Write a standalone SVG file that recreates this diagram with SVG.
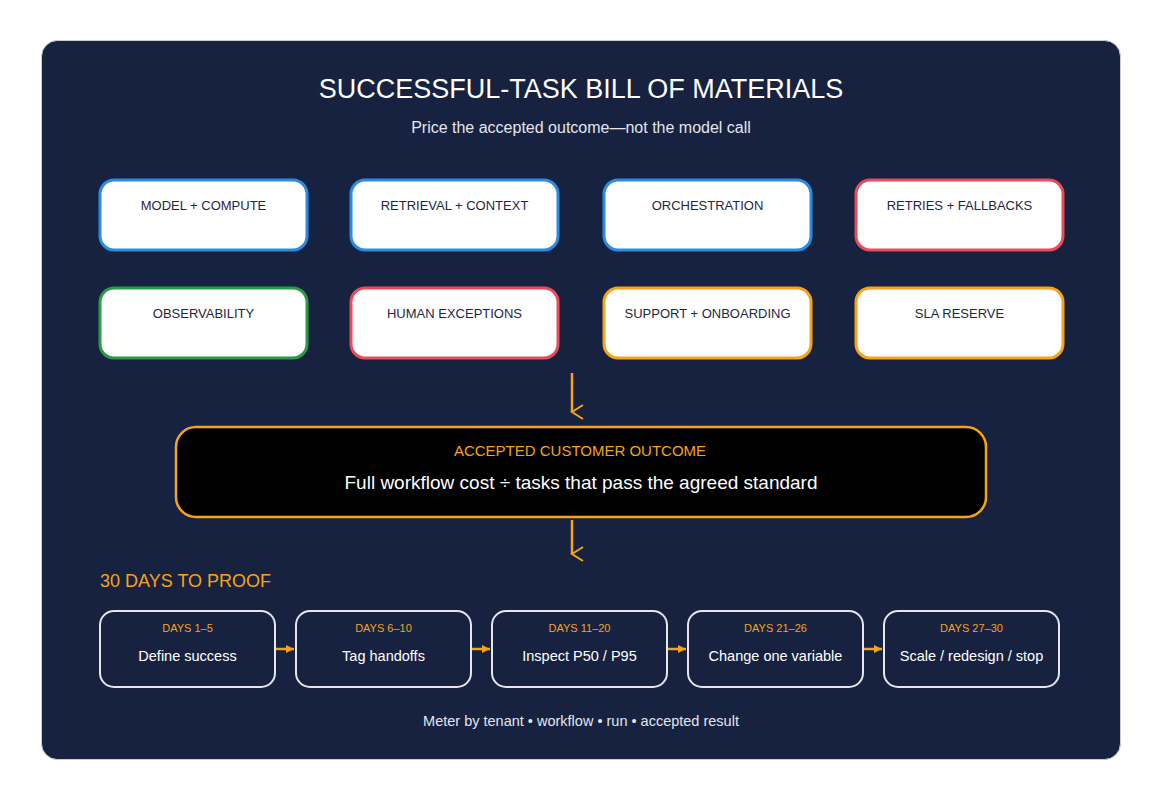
<svg xmlns="http://www.w3.org/2000/svg" width="1161" height="800" viewBox="0 0 1161 800">
<defs>
<marker id="ah" markerWidth="10" markerHeight="10" refX="8" refY="5" orient="auto" markerUnits="userSpaceOnUse"><path d="M0,1 L8,5 L0,9 Z" fill="#f5a31a"/></marker>
<marker id="av" markerWidth="16" markerHeight="16" refX="8" refY="14" orient="auto-start-reverse" markerUnits="userSpaceOnUse"><path d="M1,3 L8,14 L15,3" fill="none" stroke="#f5a31a" stroke-width="2"/></marker>
<style>
text{font-family:"Liberation Sans",Arial,sans-serif;text-anchor:middle}
.b{fill:#fff;stroke-width:3}
.bl{stroke:#2a8be0}.rd{stroke:#e84c5a}.gr{stroke:#2a9a44}.or{stroke:#f5a31a}
.bt{font-size:13px;fill:#1e2742}
.s{fill:none;stroke:#e6e6ee;stroke-width:2}
.d{font-size:11px;fill:#f5a31a}
.w{font-size:14.5px;fill:#fff}
.c{stroke:#f5a31a;stroke-width:2.5;fill:none}
</style>
</defs>
<rect x="0" y="0" width="1161" height="800" fill="#fff"/>
<rect x="41.5" y="40.5" width="1079" height="719" rx="16" fill="#172240" stroke="#c9ccd4"/>
<text x="581" y="98" font-size="27" fill="#fff">SUCCESSFUL-TASK BILL OF MATERIALS</text>
<text x="581" y="133" font-size="16" fill="#e3e5ec">Price the accepted outcome—not the model call</text>
<g id="n1"><rect class="b bl" x="100" y="180" width="207" height="70" rx="14"/><text class="bt" x="203.5" y="210">MODEL + COMPUTE</text></g>
<g id="n2"><rect class="b bl" x="351" y="180" width="207" height="70" rx="14"/><text class="bt" x="454.5" y="210">RETRIEVAL + CONTEXT</text></g>
<g id="n3"><rect class="b bl" x="604" y="180" width="207" height="70" rx="14"/><text class="bt" x="707.5" y="210">ORCHESTRATION</text></g>
<g id="n4"><rect class="b rd" x="856" y="180" width="207" height="70" rx="14"/><text class="bt" x="959.5" y="210">RETRIES + FALLBACKS</text></g>
<g id="n5"><rect class="b gr" x="100" y="288" width="207" height="70" rx="14"/><text class="bt" x="203.5" y="318">OBSERVABILITY</text></g>
<g id="n6"><rect class="b rd" x="351" y="288" width="207" height="70" rx="14"/><text class="bt" x="454.5" y="318">HUMAN EXCEPTIONS</text></g>
<g id="n7"><rect class="b or" x="604" y="288" width="207" height="70" rx="14"/><text class="bt" x="707.5" y="318">SUPPORT + ONBOARDING</text></g>
<g id="n8"><rect class="b or" x="856" y="288" width="207" height="70" rx="14"/><text class="bt" x="959.5" y="318">SLA RESERVE</text></g>
<g id="outcome"><rect x="176" y="427" width="810" height="90" rx="20" fill="#000" stroke="#f5a31a" stroke-width="2.5"/>
<text x="580" y="456" font-size="15" fill="#f5a31a" font-family="DejaVu Sans">ACCEPTED CUSTOMER OUTCOME</text>
<text x="581" y="489" font-size="19" fill="#fff">Full workflow cost ÷ tasks that pass the agreed standard</text></g>
<text x="100" y="587" font-size="18" fill="#f5a31a" font-family="DejaVu Sans" style="text-anchor:start">30 DAYS TO PROOF</text>
<g id="d1"><rect class="s" x="100" y="611" width="175" height="76" rx="14"/><text class="d" x="187.5" y="632">DAYS 1–5</text><text class="w" x="187.5" y="661">Define success</text></g>
<g id="d2"><rect class="s" x="296" y="611" width="175" height="76" rx="14"/><text class="d" x="383.5" y="632">DAYS 6–10</text><text class="w" x="383.5" y="661">Tag handoffs</text></g>
<g id="d3"><rect class="s" x="492" y="611" width="175" height="76" rx="14"/><text class="d" x="579.5" y="632">DAYS 11–20</text><text class="w" x="579.5" y="661">Inspect P50 / P95</text></g>
<g id="d4"><rect class="s" x="688" y="611" width="175" height="76" rx="14"/><text class="d" x="775.5" y="632">DAYS 21–26</text><text class="w" x="775.5" y="661">Change one variable</text></g>
<g id="d5"><rect class="s" x="884" y="611" width="175" height="76" rx="14"/><text class="d" x="971.5" y="632">DAYS 27–30</text><text class="w" x="971.5" y="661">Scale / redesign / stop</text></g>
<g id="connectors">
<path class="c" d="M572,373 V412" marker-end="url(#av)"/>
<path class="c" d="M572,520 V554" marker-end="url(#av)"/>
<path class="c" d="M276,649 H294" marker-end="url(#ah)"/>
<path class="c" d="M472,649 H490" marker-end="url(#ah)"/>
<path class="c" d="M668,649 H686" marker-end="url(#ah)"/>
<path class="c" d="M864,649 H882" marker-end="url(#ah)"/>
</g>
<text x="581" y="726" font-size="14.5" fill="#e3e5ec">Meter by tenant • workflow • run • accepted result</text>
</svg>
